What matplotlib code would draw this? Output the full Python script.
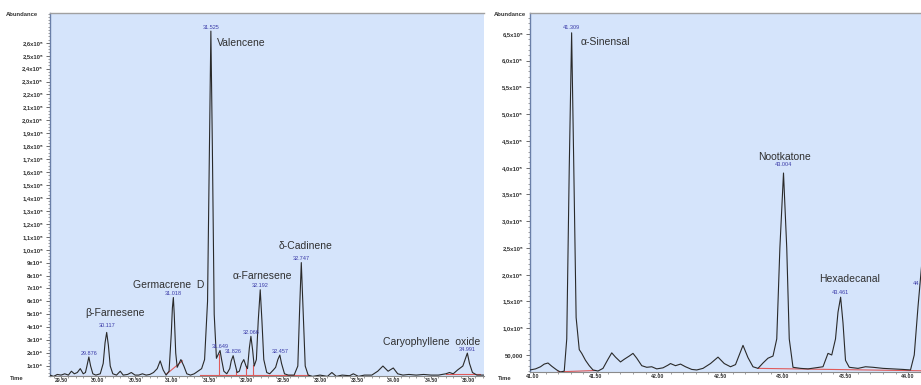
import matplotlib
matplotlib.use("Agg")
import matplotlib.pyplot as plt
from matplotlib.ticker import MultipleLocator

plt.rcParams['font.family'] = ['Liberation Sans', 'DejaVu Sans']

# ---------------- LEFT chromatogram (time in min, abundance) ----------------
left_time = [29.35, 29.40, 29.45, 29.50, 29.55, 29.60, 29.64, 29.68, 29.72, 29.76,
             29.80, 29.83, 29.85, 29.876, 29.90, 29.93, 29.97, 30.03, 30.07, 30.095,
             30.117, 30.14, 30.165, 30.20, 30.25, 30.30, 30.34, 30.40, 30.45, 30.50,
             30.55, 30.60, 30.65, 30.70, 30.75, 30.80, 30.84, 30.88, 30.92, 30.96,
             30.99, 31.005, 31.018, 31.03, 31.05, 31.07, 31.12, 31.16, 31.20, 31.25,
             31.30, 31.35, 31.40, 31.44, 31.48, 31.505, 31.525, 31.545, 31.57, 31.60,
             31.625, 31.649, 31.67, 31.70, 31.74, 31.78, 31.80, 31.826, 31.85, 31.88,
             31.91, 31.94, 31.97, 32.00, 32.02, 32.045, 32.066, 32.09, 32.11, 32.14,
             32.165, 32.192, 32.215, 32.24, 32.28, 32.32, 32.37, 32.40, 32.43, 32.457,
             32.48, 32.52, 32.57, 32.65, 32.70, 32.725, 32.747, 32.77, 32.80, 32.84,
             32.90, 33.00, 33.10, 33.16, 33.22, 33.30, 33.40, 33.45, 33.52, 33.60,
             33.70, 33.78, 33.85, 33.92, 33.99, 34.05, 34.12, 34.20, 34.30, 34.40,
             34.50, 34.60, 34.70, 34.75, 34.80, 34.86, 34.93, 34.96, 34.991, 35.02,
             35.06, 35.12, 35.22]
left_abund = [3000, 2000, 3500, 3000, 4000, 3000, 6000, 4000, 5000, 8000,
              4000, 5000, 10000, 17000, 10000, 4000, 3000, 4000, 12000, 28000,
              36000, 26000, 10000, 4000, 3000, 6000, 3000, 3500, 5000, 3000,
              3000, 4000, 3000, 3500, 5000, 8000, 14000, 7000, 3000, 6000,
              35000, 55000, 63000, 50000, 20000, 9000, 15000, 10000, 4000, 3000,
              4000, 6000, 8000, 15000, 60000, 180000, 269000, 180000, 50000, 16000,
              19000, 22000, 15000, 6000, 4000, 8000, 14000, 18000, 12000, 5000,
              6000, 12000, 15000, 10000, 8000, 24000, 33000, 22000, 10000, 15000,
              45000, 69000, 45000, 15000, 5000, 4000, 7000, 9000, 15000, 18500,
              12000, 4000, 3000, 3000, 10000, 55000, 90000, 55000, 10000, 3000,
              2000, 3000, 2000, 5000, 2000, 3000, 2500, 4000, 2000, 3000,
              3000, 6000, 10000, 6000, 8500, 4000, 3000, 3500, 3000, 3500,
              3000, 3000, 4000, 5000, 4000, 7000, 10000, 15000, 20000, 12000,
              5000, 3000, 3000]

left_rt_labels = ["29.876", "30.117", "31.018", "31.525", "31.649", "31.826",
                  "32.066", "32.192", "32.457", "32.747", "34.991"]
left_rt_x = [29.876, 30.117, 31.018, 31.525, 31.649, 31.826,
             32.066, 32.192, 32.457, 32.747, 34.991]
left_rt_y = [20000, 41000, 66000, 272000, 25000, 21000,
             36000, 72000, 21000, 93000, 23000]

left_names = ["β-Farnesene", "Germacrene  D", "Valencene", "α-Farnesene",
              "δ-Cadinene", "Caryophyllene  oxide"]
left_name_x = [30.23, 30.95, 31.61, 32.22, 32.81, 34.51]
left_name_y = [51000, 73000, 260000, 80000, 103000, 28500]
left_name_ha = ["center", "center", "left", "center", "center", "center"]

left_yticks = [10000, 20000, 30000, 40000, 50000, 60000, 70000, 80000, 90000,
               100000, 110000, 120000, 130000, 140000, 150000, 160000, 170000,
               180000, 190000, 200000, 210000, 220000, 230000, 240000, 250000, 260000]
left_yticklabels = ["1x10⁴", "2x10⁴", "3x10⁴", "4x10⁴", "5x10⁴", "6x10⁴", "7x10⁴",
                    "8x10⁴", "9x10⁴", "1,0x10⁵", "1,1x10⁵", "1,2x10⁵", "1,3x10⁵",
                    "1,4x10⁵", "1,5x10⁵", "1,6x10⁵", "1,7x10⁵", "1,8x10⁵", "1,9x10⁵",
                    "2,0x10⁵", "2,1x10⁵", "2,2x10⁵", "2,3x10⁵", "2,4x10⁵", "2,5x10⁵",
                    "2,6x10⁵"]
left_xticks = [29.5, 30.0, 30.5, 31.0, 31.5, 32.0, 32.5, 33.0, 33.5, 34.0, 34.5, 35.0]
left_xticklabels = ["29.50", "30.00", "30.50", "31.00", "31.50", "32.00",
                    "32.50", "33.00", "33.50", "34.00", "34.50", "35.00"]

# integration baselines (red) : segments (t0, a0, t1, a1)
left_base = [(29.40, 2500, 30.30, 2500), (30.93, 4000, 31.14, 14000),
             (31.38, 3000, 32.85, 3000), (31.63, 3000, 31.63, 19000),
             (31.87, 3000, 31.87, 6000), (32.00, 3000, 32.00, 10000),
             (32.10, 3000, 32.10, 11000), (34.70, 3500, 35.16, 3500)]

# ---------------- RIGHT chromatogram ----------------
right_time = [40.976, 41.02, 41.06, 41.09, 41.12, 41.15, 41.19, 41.22, 41.25, 41.27,
              41.29, 41.309, 41.325, 41.345, 41.37, 41.39, 41.42, 41.45, 41.48, 41.52,
              41.56, 41.60, 41.63, 41.66, 41.70, 41.73, 41.77, 41.80, 41.83, 41.87,
              41.91, 41.95, 41.99, 42.04, 42.08, 42.10, 42.14, 42.18, 42.22, 42.27,
              42.31, 42.36, 42.42, 42.48, 42.53, 42.58, 42.62, 42.65, 42.68, 42.72,
              42.76, 42.80, 42.84, 42.88, 42.92, 42.95, 42.975, 43.004, 43.03, 43.05,
              43.08, 43.14, 43.20, 43.26, 43.32, 43.36, 43.39, 43.42, 43.44, 43.461,
              43.48, 43.50, 43.53, 43.60, 43.66, 43.72, 43.80, 43.88, 43.96, 44.02,
              44.05, 44.08, 44.11]
right_abund = [22000, 24000, 28000, 33000, 35000, 29000, 22000, 18000, 20000, 80000,
               400000, 652000, 420000, 120000, 60000, 53000, 40000, 30000, 22000, 20000,
               25000, 42000, 54000, 46000, 37000, 42000, 48000, 53000, 44000, 30000,
               27000, 28000, 24000, 26000, 31000, 34000, 30000, 33000, 28000, 23000,
               22000, 25000, 34000, 46000, 34000, 28000, 32000, 50000, 68000, 45000,
               28000, 25000, 35000, 44000, 48000, 80000, 250000, 390000, 250000, 80000,
               27000, 25000, 24000, 26000, 28000, 53000, 50000, 80000, 130000, 158000,
               110000, 40000, 27000, 25000, 28000, 27000, 25000, 24000, 23000, 22000,
               50000, 140000, 220000]

right_rt_labels = ["41.309", "43.004", "43.461", "44."]
right_rt_x = [41.309, 43.004, 43.461, 44.07]
right_rt_y = [662000, 405000, 166000, 183000]

right_names = ["α-Sinensal", "Nootkatone", "Hexadecanal"]
right_name_x = [41.38, 43.01, 43.53]
right_name_y = [635000, 420000, 192000]
right_name_ha = ["left", "center", "center"]

right_yticks = [50000, 100000, 150000, 200000, 250000, 300000, 350000, 400000,
                450000, 500000, 550000, 600000, 650000]
right_yticklabels = ["50,000", "1,0x10⁵", "1,5x10⁵", "2,0x10⁵", "2,5x10⁵", "3,0x10⁵",
                     "3,5x10⁵", "4,0x10⁵", "4,5x10⁵", "5,0x10⁵", "5,5x10⁵", "6,0x10⁵",
                     "6,5x10⁵"]
right_xticks = [41.0, 41.5, 42.0, 42.5, 43.0, 43.5, 44.0]
right_xticklabels = ["41.00", "41.50", "42.00", "42.50", "43.00", "43.50", "44.00"]

right_base = [(41.20, 18500, 41.50, 21000), (42.80, 25000, 44.104, 20500)]

# ---------------- drawing ----------------
BG = "#d5e4fb"
LINE = "#2a2a2a"
RED = "#e05a5a"
BLUE = "#3a3aa8"
TXT = "#303030"

fig = plt.figure(figsize=(9.21, 3.85), dpi=100)
fig.patch.set_facecolor("white")


def style_axes(ax, xlim, ylim, xt, xtl, yt, ytl):
    ax.set_facecolor(BG)
    ax.set_xlim(*xlim)
    ax.set_ylim(*ylim)
    ax.set_xticks(xt)
    ax.set_xticklabels(xtl)
    ax.set_yticks(yt)
    ax.set_yticklabels(ytl)
    ax.xaxis.set_minor_locator(MultipleLocator(0.1))
    ax.tick_params(axis="y", which="major", labelsize=4.2, colors="#555555",
                   labelcolor="#333333", length=3, width=0.6, pad=2)
    ax.tick_params(axis="x", which="major", labelsize=3.8, colors="#555555",
                   labelcolor="#333333", length=1.5, width=0.6, pad=0.3)
    ax.tick_params(axis="both", which="minor", colors="#777777", length=1.2, width=0.5)
    for lab in ax.get_yticklabels() + ax.get_xticklabels():
        lab.set_fontweight("bold")
    ax.spines["right"].set_visible(False)
    ax.spines["top"].set_color("#a0a0a0")
    ax.spines["top"].set_linewidth(1.0)
    ax.spines["left"].set_color("#6a7fa8")
    ax.spines["left"].set_linewidth(1.0)
    ax.spines["bottom"].set_color("#8a8a8a")
    ax.spines["bottom"].set_linewidth(0.8)


# left axes
axL = fig.add_axes([50 / 921, 1 - 376 / 385, 434 / 921, 363 / 385])
style_axes(axL, (29.351, 35.216), (2300, 283000), left_xticks, left_xticklabels,
           left_yticks, left_yticklabels)
axL.yaxis.set_minor_locator(MultipleLocator(2500))
for t0, a0, t1, a1 in left_base:
    axL.plot([t0, t1], [a0, a1], color=RED, lw=0.8, zorder=2)
axL.plot(left_time, left_abund, color=LINE, lw=0.8, zorder=3)
for s, x, y in zip(left_rt_labels, left_rt_x, left_rt_y):
    axL.text(x, y, s, fontsize=4, color=BLUE, ha="center", va="center", zorder=4)
for s, x, y, ha in zip(left_names, left_name_x, left_name_y, left_name_ha):
    axL.text(x, y, s, fontsize=7.5, color=TXT, ha=ha, va="center", zorder=4)

# right axes
axR = fig.add_axes([530 / 921, 1 - 372 / 385, 391 / 921, 359 / 385])
style_axes(axR, (40.976, 44.104), (18200, 689000), right_xticks, right_xticklabels,
           right_yticks, right_yticklabels)
axR.yaxis.set_minor_locator(MultipleLocator(10000))
for t0, a0, t1, a1 in right_base:
    axR.plot([t0, t1], [a0, a1], color=RED, lw=0.8, zorder=2)
axR.plot(right_time, right_abund, color=LINE, lw=0.8, zorder=3)
for s, x, y in zip(right_rt_labels, right_rt_x, right_rt_y):
    axR.text(x, y, s, fontsize=4, color=BLUE, ha="center", va="center", zorder=4)
for s, x, y, ha in zip(right_names, right_name_x, right_name_y, right_name_ha):
    axR.text(x, y, s, fontsize=7.5, color=TXT, ha=ha, va="center", zorder=4)

# axis captions
fig.text(22 / 921, 1 - 14 / 385, "Abundance", fontsize=4.2, fontweight="bold",
         color="#333333", ha="center", va="center")
fig.text(17 / 921, 1 - 379 / 385, "Time", fontsize=4.2, fontweight="bold",
         color="#333333", ha="center", va="center")
fig.text(510 / 921, 1 - 14 / 385, "Abundance", fontsize=4.2, fontweight="bold",
         color="#333333", ha="center", va="center")
fig.text(505 / 921, 1 - 379 / 385, "Time", fontsize=4.2, fontweight="bold",
         color="#333333", ha="center", va="center")

fig.savefig("out.png", dpi=100, facecolor="white")
